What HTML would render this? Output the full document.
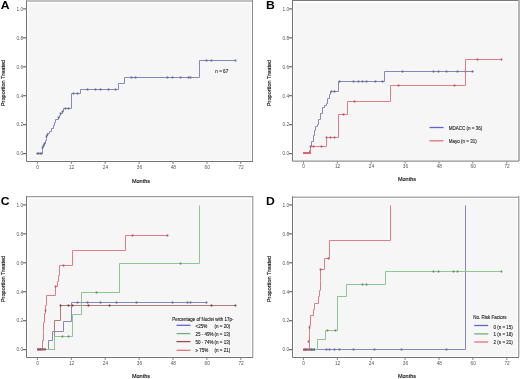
<!DOCTYPE html>
<html><head><meta charset="utf-8"><style>
html,body{margin:0;padding:0;background:#fff;}
body{width:520px;height:379px;overflow:hidden;}
svg{display:block;font-family:'Liberation Sans', sans-serif;will-change:transform;}
</style></head><body>
<svg width="520" height="379" viewBox="0 0 520 379">
<rect width="520" height="379" fill="#fff"/>
<rect x="28" y="3" width="223" height="157" fill="#f6f6f6"/>
<rect x="26" y="0" width="227" height="2" fill="#c0c0c0"/>
<line x1="252.5" y1="0" x2="252.5" y2="161" stroke="#8a8a8a" stroke-width="1"/>
<path d="M26.5 0.5 V161.5 H253" fill="none" stroke="#747474" stroke-width="1"/>
<line x1="23" y1="153.60" x2="26" y2="153.60" stroke="#6a6a6a" stroke-width="1.2"/>
<text x="23.0" y="155.40" font-size="4.7" text-anchor="end" fill="#585858">0.0</text>
<line x1="23" y1="124.66" x2="26" y2="124.66" stroke="#6a6a6a" stroke-width="1.2"/>
<text x="23.0" y="126.46" font-size="4.7" text-anchor="end" fill="#585858">0.2</text>
<line x1="23" y1="95.72" x2="26" y2="95.72" stroke="#6a6a6a" stroke-width="1.2"/>
<text x="23.0" y="97.52" font-size="4.7" text-anchor="end" fill="#585858">0.4</text>
<line x1="23" y1="66.78" x2="26" y2="66.78" stroke="#6a6a6a" stroke-width="1.2"/>
<text x="23.0" y="68.58" font-size="4.7" text-anchor="end" fill="#585858">0.6</text>
<line x1="23" y1="37.84" x2="26" y2="37.84" stroke="#6a6a6a" stroke-width="1.2"/>
<text x="23.0" y="39.64" font-size="4.7" text-anchor="end" fill="#585858">0.8</text>
<line x1="23" y1="8.90" x2="26" y2="8.90" stroke="#6a6a6a" stroke-width="1.2"/>
<text x="23.0" y="10.70" font-size="4.7" text-anchor="end" fill="#585858">1.0</text>
<line x1="37.40" y1="162.0" x2="37.40" y2="164.0" stroke="#747474" stroke-width="0.9"/>
<text x="37.70" y="168.50" font-size="4.8" text-anchor="middle" fill="#585858">0</text>
<line x1="71.30" y1="162.0" x2="71.30" y2="164.0" stroke="#747474" stroke-width="0.9"/>
<text x="71.60" y="168.50" font-size="4.8" text-anchor="middle" fill="#585858">12</text>
<line x1="105.20" y1="162.0" x2="105.20" y2="164.0" stroke="#747474" stroke-width="0.9"/>
<text x="105.50" y="168.50" font-size="4.8" text-anchor="middle" fill="#585858">24</text>
<line x1="139.10" y1="162.0" x2="139.10" y2="164.0" stroke="#747474" stroke-width="0.9"/>
<text x="139.40" y="168.50" font-size="4.8" text-anchor="middle" fill="#585858">36</text>
<line x1="173.00" y1="162.0" x2="173.00" y2="164.0" stroke="#747474" stroke-width="0.9"/>
<text x="173.30" y="168.50" font-size="4.8" text-anchor="middle" fill="#585858">48</text>
<line x1="206.90" y1="162.0" x2="206.90" y2="164.0" stroke="#747474" stroke-width="0.9"/>
<text x="207.20" y="168.50" font-size="4.8" text-anchor="middle" fill="#585858">60</text>
<line x1="240.80" y1="162.0" x2="240.80" y2="164.0" stroke="#747474" stroke-width="0.9"/>
<text x="241.10" y="168.50" font-size="4.8" text-anchor="middle" fill="#585858">72</text>
<text x="141" y="182.90" font-size="5.5" text-anchor="middle" fill="#111" stroke="#111" stroke-width="0.15">Months</text>
<text transform="translate(4.6 83) rotate(-90)" x="0" y="0" font-size="5.6" text-anchor="middle" fill="#111" stroke="#111" stroke-width="0.15">Proportion Treated</text>
<text transform="translate(0.7 8.9) scale(1.09 1)" font-size="11.2" font-weight="bold" fill="#000">A</text>
<rect x="294" y="3" width="223" height="157" fill="#f6f6f6"/>
<rect x="292" y="0" width="228" height="1" fill="#7c7c7c"/>
<rect x="518" y="0" width="2" height="161" fill="#b4b4b4"/>
<path d="M292.5 0.5 V161.1 H519" fill="none" stroke="#747474" stroke-width="1"/>
<line x1="289" y1="153.60" x2="292" y2="153.60" stroke="#6a6a6a" stroke-width="1.2"/>
<text x="289.0" y="155.40" font-size="4.7" text-anchor="end" fill="#585858">0.0</text>
<line x1="289" y1="124.66" x2="292" y2="124.66" stroke="#6a6a6a" stroke-width="1.2"/>
<text x="289.0" y="126.46" font-size="4.7" text-anchor="end" fill="#585858">0.2</text>
<line x1="289" y1="95.72" x2="292" y2="95.72" stroke="#6a6a6a" stroke-width="1.2"/>
<text x="289.0" y="97.52" font-size="4.7" text-anchor="end" fill="#585858">0.4</text>
<line x1="289" y1="66.78" x2="292" y2="66.78" stroke="#6a6a6a" stroke-width="1.2"/>
<text x="289.0" y="68.58" font-size="4.7" text-anchor="end" fill="#585858">0.6</text>
<line x1="289" y1="37.84" x2="292" y2="37.84" stroke="#6a6a6a" stroke-width="1.2"/>
<text x="289.0" y="39.64" font-size="4.7" text-anchor="end" fill="#585858">0.8</text>
<line x1="289" y1="8.90" x2="292" y2="8.90" stroke="#6a6a6a" stroke-width="1.2"/>
<text x="289.0" y="10.70" font-size="4.7" text-anchor="end" fill="#585858">1.0</text>
<line x1="303.40" y1="161.6" x2="303.40" y2="163.6" stroke="#747474" stroke-width="0.9"/>
<text x="303.70" y="167.50" font-size="4.8" text-anchor="middle" fill="#585858">0</text>
<line x1="337.30" y1="161.6" x2="337.30" y2="163.6" stroke="#747474" stroke-width="0.9"/>
<text x="337.60" y="167.50" font-size="4.8" text-anchor="middle" fill="#585858">12</text>
<line x1="371.20" y1="161.6" x2="371.20" y2="163.6" stroke="#747474" stroke-width="0.9"/>
<text x="371.50" y="167.50" font-size="4.8" text-anchor="middle" fill="#585858">24</text>
<line x1="405.10" y1="161.6" x2="405.10" y2="163.6" stroke="#747474" stroke-width="0.9"/>
<text x="405.40" y="167.50" font-size="4.8" text-anchor="middle" fill="#585858">36</text>
<line x1="439.00" y1="161.6" x2="439.00" y2="163.6" stroke="#747474" stroke-width="0.9"/>
<text x="439.30" y="167.50" font-size="4.8" text-anchor="middle" fill="#585858">48</text>
<line x1="472.90" y1="161.6" x2="472.90" y2="163.6" stroke="#747474" stroke-width="0.9"/>
<text x="473.20" y="167.50" font-size="4.8" text-anchor="middle" fill="#585858">60</text>
<line x1="506.80" y1="161.6" x2="506.80" y2="163.6" stroke="#747474" stroke-width="0.9"/>
<text x="507.10" y="167.50" font-size="4.8" text-anchor="middle" fill="#585858">72</text>
<text x="407" y="181.20" font-size="5.5" text-anchor="middle" fill="#111" stroke="#111" stroke-width="0.15">Months</text>
<text transform="translate(270.6 83) rotate(-90)" x="0" y="0" font-size="5.6" text-anchor="middle" fill="#111" stroke="#111" stroke-width="0.15">Proportion Treated</text>
<text transform="translate(265.9 8.9) scale(1.09 1)" font-size="11.2" font-weight="bold" fill="#000">B</text>
<rect x="28" y="199" width="223" height="157" fill="#f6f6f6"/>
<line x1="26" y1="196.7" x2="253" y2="196.7" stroke="#858585" stroke-width="1"/>
<line x1="252.8" y1="196" x2="252.8" y2="357" stroke="#8a8a8a" stroke-width="1"/>
<path d="M26.5 196.5 V357.5 H253" fill="none" stroke="#747474" stroke-width="1"/>
<line x1="23" y1="349.60" x2="26" y2="349.60" stroke="#6a6a6a" stroke-width="1.2"/>
<text x="23.0" y="351.40" font-size="4.7" text-anchor="end" fill="#585858">0.0</text>
<line x1="23" y1="320.66" x2="26" y2="320.66" stroke="#6a6a6a" stroke-width="1.2"/>
<text x="23.0" y="322.46" font-size="4.7" text-anchor="end" fill="#585858">0.2</text>
<line x1="23" y1="291.72" x2="26" y2="291.72" stroke="#6a6a6a" stroke-width="1.2"/>
<text x="23.0" y="293.52" font-size="4.7" text-anchor="end" fill="#585858">0.4</text>
<line x1="23" y1="262.78" x2="26" y2="262.78" stroke="#6a6a6a" stroke-width="1.2"/>
<text x="23.0" y="264.58" font-size="4.7" text-anchor="end" fill="#585858">0.6</text>
<line x1="23" y1="233.84" x2="26" y2="233.84" stroke="#6a6a6a" stroke-width="1.2"/>
<text x="23.0" y="235.64" font-size="4.7" text-anchor="end" fill="#585858">0.8</text>
<line x1="23" y1="204.90" x2="26" y2="204.90" stroke="#6a6a6a" stroke-width="1.2"/>
<text x="23.0" y="206.70" font-size="4.7" text-anchor="end" fill="#585858">1.0</text>
<line x1="37.40" y1="358.0" x2="37.40" y2="360.0" stroke="#747474" stroke-width="0.9"/>
<text x="37.70" y="364.50" font-size="4.8" text-anchor="middle" fill="#585858">0</text>
<line x1="71.30" y1="358.0" x2="71.30" y2="360.0" stroke="#747474" stroke-width="0.9"/>
<text x="71.60" y="364.50" font-size="4.8" text-anchor="middle" fill="#585858">12</text>
<line x1="105.20" y1="358.0" x2="105.20" y2="360.0" stroke="#747474" stroke-width="0.9"/>
<text x="105.50" y="364.50" font-size="4.8" text-anchor="middle" fill="#585858">24</text>
<line x1="139.10" y1="358.0" x2="139.10" y2="360.0" stroke="#747474" stroke-width="0.9"/>
<text x="139.40" y="364.50" font-size="4.8" text-anchor="middle" fill="#585858">36</text>
<line x1="173.00" y1="358.0" x2="173.00" y2="360.0" stroke="#747474" stroke-width="0.9"/>
<text x="173.30" y="364.50" font-size="4.8" text-anchor="middle" fill="#585858">48</text>
<line x1="206.90" y1="358.0" x2="206.90" y2="360.0" stroke="#747474" stroke-width="0.9"/>
<text x="207.20" y="364.50" font-size="4.8" text-anchor="middle" fill="#585858">60</text>
<line x1="240.80" y1="358.0" x2="240.80" y2="360.0" stroke="#747474" stroke-width="0.9"/>
<text x="241.10" y="364.50" font-size="4.8" text-anchor="middle" fill="#585858">72</text>
<text x="141" y="377.70" font-size="5.5" text-anchor="middle" fill="#111" stroke="#111" stroke-width="0.15">Months</text>
<text transform="translate(4.6 279) rotate(-90)" x="0" y="0" font-size="5.6" text-anchor="middle" fill="#111" stroke="#111" stroke-width="0.15">Proportion Treated</text>
<text transform="translate(0.7 204.5) scale(1.09 1)" font-size="11.2" font-weight="bold" fill="#000">C</text>
<rect x="294" y="199" width="223" height="157" fill="#f6f6f6"/>
<line x1="292" y1="197.2" x2="519" y2="197.2" stroke="#858585" stroke-width="1"/>
<rect x="518" y="196" width="1" height="161" fill="#a2a2a2"/>
<rect x="519" y="196" width="1" height="161" fill="#dadada"/>
<path d="M292.5 196.5 V357.5 H519" fill="none" stroke="#747474" stroke-width="1"/>
<line x1="289" y1="349.60" x2="292" y2="349.60" stroke="#6a6a6a" stroke-width="1.2"/>
<text x="289.0" y="351.40" font-size="4.7" text-anchor="end" fill="#585858">0.0</text>
<line x1="289" y1="320.66" x2="292" y2="320.66" stroke="#6a6a6a" stroke-width="1.2"/>
<text x="289.0" y="322.46" font-size="4.7" text-anchor="end" fill="#585858">0.2</text>
<line x1="289" y1="291.72" x2="292" y2="291.72" stroke="#6a6a6a" stroke-width="1.2"/>
<text x="289.0" y="293.52" font-size="4.7" text-anchor="end" fill="#585858">0.4</text>
<line x1="289" y1="262.78" x2="292" y2="262.78" stroke="#6a6a6a" stroke-width="1.2"/>
<text x="289.0" y="264.58" font-size="4.7" text-anchor="end" fill="#585858">0.6</text>
<line x1="289" y1="233.84" x2="292" y2="233.84" stroke="#6a6a6a" stroke-width="1.2"/>
<text x="289.0" y="235.64" font-size="4.7" text-anchor="end" fill="#585858">0.8</text>
<line x1="289" y1="204.90" x2="292" y2="204.90" stroke="#6a6a6a" stroke-width="1.2"/>
<text x="289.0" y="206.70" font-size="4.7" text-anchor="end" fill="#585858">1.0</text>
<line x1="303.40" y1="358.0" x2="303.40" y2="360.0" stroke="#747474" stroke-width="0.9"/>
<text x="303.70" y="364.50" font-size="4.8" text-anchor="middle" fill="#585858">0</text>
<line x1="337.30" y1="358.0" x2="337.30" y2="360.0" stroke="#747474" stroke-width="0.9"/>
<text x="337.60" y="364.50" font-size="4.8" text-anchor="middle" fill="#585858">12</text>
<line x1="371.20" y1="358.0" x2="371.20" y2="360.0" stroke="#747474" stroke-width="0.9"/>
<text x="371.50" y="364.50" font-size="4.8" text-anchor="middle" fill="#585858">24</text>
<line x1="405.10" y1="358.0" x2="405.10" y2="360.0" stroke="#747474" stroke-width="0.9"/>
<text x="405.40" y="364.50" font-size="4.8" text-anchor="middle" fill="#585858">36</text>
<line x1="439.00" y1="358.0" x2="439.00" y2="360.0" stroke="#747474" stroke-width="0.9"/>
<text x="439.30" y="364.50" font-size="4.8" text-anchor="middle" fill="#585858">48</text>
<line x1="472.90" y1="358.0" x2="472.90" y2="360.0" stroke="#747474" stroke-width="0.9"/>
<text x="473.20" y="364.50" font-size="4.8" text-anchor="middle" fill="#585858">60</text>
<line x1="506.80" y1="358.0" x2="506.80" y2="360.0" stroke="#747474" stroke-width="0.9"/>
<text x="507.10" y="364.50" font-size="4.8" text-anchor="middle" fill="#585858">72</text>
<text x="407" y="378.30" font-size="5.5" text-anchor="middle" fill="#111" stroke="#111" stroke-width="0.15">Months</text>
<text transform="translate(270.6 279) rotate(-90)" x="0" y="0" font-size="5.6" text-anchor="middle" fill="#111" stroke="#111" stroke-width="0.15">Proportion Treated</text>
<text transform="translate(265.9 204.5) scale(1.09 1)" font-size="11.2" font-weight="bold" fill="#000">D</text>
<path d="M36.5 153.5 H42.5 V150.5 H42.5 V147.5 H43.5 V145.5 H44.5 V143.5 H45.5 V140.5 H46.5 V138.5 H46.5 V135.5 H47.5 V133.5 H49.5 V131.5 H51.5 V128.5 H53.5 V125.5 H54.5 V122.5 H55.5 V119.5 H58.5 V117.5 H59.5 V115.5 H60.5 V113.5 H62.5 V111.5 H63.5 V108.5 H71.5 V93.5 H80.5 V89.5 H118.5 V83.5 H124.5 V77.5 H199.5 V60.5 H235.5" fill="none" stroke="#8688ba" stroke-width="1.0"/>
<path d="M37.5 152.5V154.5 M38.5 152.5V154.5 M40.5 152.5V154.5 M41.5 152.5V154.5 M42.5 146.5V148.5 M43.5 144.5V146.5 M44.5 142.5V144.5 M46.5 135.5V137.5 M47.5 133.5V135.5 M58.5 116.5V118.5 M60.5 112.5V114.5 M62.5 110.5V112.5 M65.5 107.5V109.5 M68.5 107.5V109.5 M73.5 92.5V94.5 M77.5 92.5V94.5 M87.5 88.5V90.5 M95.5 88.5V90.5 M100.5 88.5V90.5 M108.5 88.5V90.5 M115.5 88.5V90.5 M131.5 76.5V78.5 M135.5 76.5V78.5 M167.5 76.5V78.5 M172.5 76.5V78.5 M180.5 76.5V78.5 M188.5 76.5V78.5 M190.5 76.5V78.5 M206.5 59.5V61.5 M211.5 59.5V61.5 M235.5 59.5V61.5" fill="none" stroke="#62648e" stroke-width="1.6"/>
<text x="215.3" y="73.0" font-size="4.6" text-anchor="start" fill="#262626" stroke="#262626" stroke-width="0.12">n = 67</text>
<path d="M303.5 153.5 H309.5 V150.5 H310.5 V146.5 H311.5 V141.5 H313.5 V135.5 H314.5 V130.5 H315.5 V126.5 H317.5 V124.5 H318.5 V119.5 H320.5 V113.5 H322.5 V107.5 H324.5 V105.5 H326.5 V103.5 H327.5 V98.5 H329.5 V94.5 H330.5 V91.5 H338.5 V81.5 H384.5 V71.5 H473.5" fill="none" stroke="#8688ba" stroke-width="1.0"/>
<path d="M331.5 90.5V92.5 M334.5 90.5V92.5 M339.5 80.5V82.5 M353.5 80.5V82.5 M358.5 80.5V82.5 M362.5 80.5V82.5 M366.5 80.5V82.5 M375.5 80.5V82.5 M382.5 80.5V82.5 M402.5 70.5V72.5 M433.5 70.5V72.5 M438.5 70.5V72.5 M446.5 70.5V72.5 M457.5 70.5V72.5 M465.5 70.5V72.5 M472.5 70.5V72.5" fill="none" stroke="#62648e" stroke-width="1.6"/>
<path d="M303.5 153.5 H310.5 V146.5 H326.5 V137.5 H338.5 V114.5 H347.5 V101.5 H390.5 V85.5 H465.5 V59.5 H501.5" fill="none" stroke="#e27c88" stroke-width="1.0"/>
<rect x="303" y="152" width="8" height="2" fill="#e0606c"/>
<path d="M310.5 145.5V147.5 M313.5 145.5V147.5 M321.5 145.5V147.5 M326.5 136.5V138.5 M330.5 136.5V138.5 M334.5 136.5V138.5 M343.5 113.5V115.5 M354.5 100.5V102.5 M398.5 84.5V86.5 M454.5 84.5V86.5 M477.5 58.5V60.5 M501.5 58.5V60.5" fill="none" stroke="#b05060" stroke-width="1.6"/>
<line x1="429.5" y1="127.5" x2="443.5" y2="127.5" stroke="#6464d0" stroke-width="1.3"/>
<line x1="429.5" y1="140.8" x2="443.5" y2="140.8" stroke="#e2727c" stroke-width="1.3"/>
<text x="448.8" y="129.5" font-size="4.5" text-anchor="start" fill="#262626" stroke="#262626" stroke-width="0.12">MDACC (n = 36)</text>
<text x="448.8" y="142.8" font-size="4.5" text-anchor="start" fill="#262626" stroke="#262626" stroke-width="0.12">Mayo (n = 31)</text>
<path d="M37.5 349.5 H48.5 V340.5 H52.5 V331.5 H63.5 V321.5 H71.5 V302.5 H206.5" fill="none" stroke="#8688ba" stroke-width="1.0"/>
<path d="M77.5 301.5V303.5 M87.5 301.5V303.5 M100.5 301.5V303.5 M116.5 301.5V303.5 M136.5 301.5V303.5 M172.5 301.5V303.5 M187.5 301.5V303.5 M190.5 301.5V303.5 M206.5 301.5V303.5" fill="none" stroke="#62648e" stroke-width="1.6"/>
<path d="M37.5 349.5 H54.5 V320.5 H60.5 V305.5 H235.5" fill="none" stroke="#ae7a7a" stroke-width="1.0"/>
<path d="M60.5 304.5V306.5 M68.5 304.5V306.5 M72.5 304.5V306.5 M88.5 304.5V306.5 M109.5 304.5V306.5 M211.5 304.5V306.5 M235.5 304.5V306.5" fill="none" stroke="#6a3a3a" stroke-width="1.6"/>
<path d="M37.5 349.5 H54.5 V336.5 H72.5 V314.5 H81.5 V292.5 H119.5 V263.5 H199.5 V205.5" fill="none" stroke="#8cc690" stroke-width="1.0"/>
<path d="M62.5 335.5V337.5 M68.5 335.5V337.5 M96.5 291.5V293.5 M180.5 262.5V264.5" fill="none" stroke="#5e8a62" stroke-width="1.6"/>
<path d="M37.5 349.5 H42.5 V340.5 H43.5 V331.5 H43.5 V322.5 H44.5 V313.5 H45.5 V305.5 H46.5 V295.5 H55.5 V286.5 H57.5 V281.5 H58.5 V275.5 H59.5 V265.5 H72.5 V250.5 H125.5 V235.5 H167.5" fill="none" stroke="#e27c88" stroke-width="1.0"/>
<path d="M38.5 348.5V350.5 M40.5 348.5V350.5 M45.5 309.5V311.5 M55.5 285.5V287.5 M63.5 264.5V266.5 M132.5 234.5V236.5 M167.5 234.5V236.5" fill="none" stroke="#b05060" stroke-width="1.6"/>
<rect x="37" y="348.4" width="9" height="2" fill="#905060"/>
<text x="172.2" y="321.0" font-size="4.5" text-anchor="start" fill="#262626" stroke="#262626" stroke-width="0.12">Percentage of Nuclei with 17p-</text>
<line x1="176.5" y1="325.3" x2="190.4" y2="325.3" stroke="#6464d0" stroke-width="1.3"/>
<line x1="176.5" y1="333.6" x2="190.4" y2="333.6" stroke="#74ae78" stroke-width="1.3"/>
<line x1="176.5" y1="341.6" x2="190.4" y2="341.6" stroke="#955252" stroke-width="1.3"/>
<line x1="176.5" y1="350.3" x2="190.4" y2="350.3" stroke="#e2727c" stroke-width="1.3"/>
<text x="195.5" y="328.1" font-size="4.5" text-anchor="start" fill="#262626" stroke="#262626" stroke-width="0.12">&lt;25%</text>
<text x="214.5" y="328.1" font-size="4.5" text-anchor="start" fill="#262626" stroke="#262626" stroke-width="0.12">(n = 20)</text>
<text x="195.5" y="335.7" font-size="4.5" text-anchor="start" fill="#262626" stroke="#262626" stroke-width="0.12">25 - 49%</text>
<text x="214.5" y="335.7" font-size="4.5" text-anchor="start" fill="#262626" stroke="#262626" stroke-width="0.12">(n = 13)</text>
<text x="195.5" y="343.8" font-size="4.5" text-anchor="start" fill="#262626" stroke="#262626" stroke-width="0.12">50 - 74%</text>
<text x="214.5" y="343.8" font-size="4.5" text-anchor="start" fill="#262626" stroke="#262626" stroke-width="0.12">(n = 13)</text>
<text x="195.5" y="352.0" font-size="4.5" text-anchor="start" fill="#262626" stroke="#262626" stroke-width="0.12">&#8805; 75%</text>
<text x="214.5" y="352.0" font-size="4.5" text-anchor="start" fill="#262626" stroke="#262626" stroke-width="0.12">(n = 21)</text>
<path d="M303.5 349.5 H465.5 V205.5" fill="none" stroke="#8688ba" stroke-width="1.0"/>
<path d="M311.5 348.5V350.5 M314.5 348.5V350.5 M326.5 348.5V350.5 M329.5 348.5V350.5 M334.5 348.5V350.5 M339.5 348.5V350.5 M353.5 348.5V350.5 M374.5 348.5V350.5 M401.5 348.5V350.5 M446.5 348.5V350.5" fill="none" stroke="#62648e" stroke-width="1.6"/>
<path d="M303.5 349.5 H317.5 V339.5 H325.5 V330.5 H337.5 V296.5 H346.5 V284.5 H385.5 V271.5 H501.5" fill="none" stroke="#8cc690" stroke-width="1.0"/>
<path d="M327.5 329.5V331.5 M335.5 329.5V331.5 M362.5 283.5V285.5 M366.5 283.5V285.5 M433.5 270.5V272.5 M438.5 270.5V272.5 M453.5 270.5V272.5 M457.5 270.5V272.5 M501.5 270.5V272.5" fill="none" stroke="#5e8a62" stroke-width="1.6"/>
<path d="M303.5 349.5 H309.5 V341.5 H309.5 V333.5 H309.5 V325.5 H310.5 V315.5 H313.5 V309.5 H314.5 V303.5 H318.5 V296.5 H319.5 V290.5 H320.5 V280.5 H320.5 V269.5 H324.5 V258.5 H329.5 V240.5 H390.5 V205.5" fill="none" stroke="#e27c88" stroke-width="1.0"/>
<path d="M304.5 348.5V350.5 M306.5 348.5V350.5 M308.5 340.5V342.5 M309.5 326.5V328.5 M320.5 268.5V270.5 M328.5 257.5V259.5" fill="none" stroke="#b05060" stroke-width="1.6"/>
<rect x="303" y="348.6" width="6" height="2" fill="#a05060"/>
<rect x="309" y="348.6" width="6" height="2" fill="#607080"/>
<text x="473.3" y="318.7" font-size="4.5" text-anchor="start" fill="#262626" stroke="#262626" stroke-width="0.12">No. Risk Factors</text>
<line x1="474.2" y1="325.5" x2="488.2" y2="325.5" stroke="#6464d0" stroke-width="1.3"/>
<line x1="474.2" y1="333.9" x2="488.2" y2="333.9" stroke="#74ae78" stroke-width="1.3"/>
<line x1="474.2" y1="342.0" x2="488.2" y2="342.0" stroke="#e2727c" stroke-width="1.3"/>
<text x="493.4" y="329.0" font-size="4.5" text-anchor="start" fill="#262626" stroke="#262626" stroke-width="0.12">0 (n = 15)</text>
<text x="493.4" y="335.6" font-size="4.5" text-anchor="start" fill="#262626" stroke="#262626" stroke-width="0.12">1 (n = 18)</text>
<text x="493.4" y="343.7" font-size="4.5" text-anchor="start" fill="#262626" stroke="#262626" stroke-width="0.12">2 (n = 21)</text>
</svg>
</body></html>
